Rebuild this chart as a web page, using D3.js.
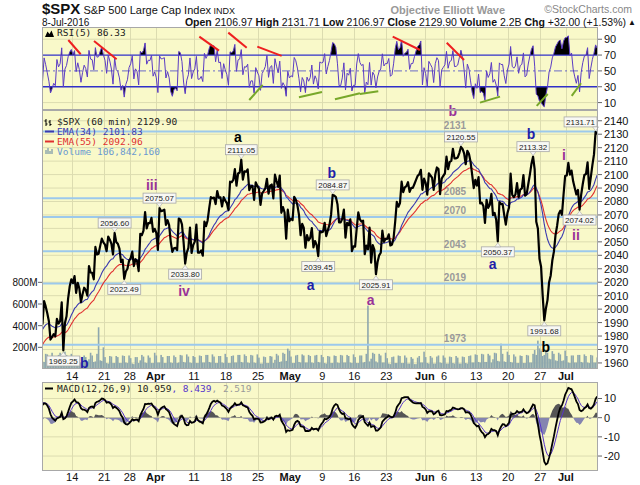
<!DOCTYPE html>
<html>
<head>
<meta charset="utf-8">
<title>$SPX 60 min</title>
<script src="https://cdn.jsdelivr.net/npm/d3@7/dist/d3.min.js"></script>
<style>
  body { margin: 0; background: #fff; }
  svg { display: block; font-family: "Liberation Sans", Arial, sans-serif; }
  .mono { font-family: "DejaVu Sans Mono", monospace; font-size: 9.5px; }
</style>
</head>
<body>
<svg id="chart" width="640" height="485"></svg>
<script>
'use strict';

var tradingDays = ['3/7','3/8','3/9','3/10','3/11','3/14','3/15','3/16','3/17','3/18','3/21','3/22','3/23','3/24',
  '3/28','3/29','3/30','3/31','4/1','4/4','4/5','4/6','4/7','4/8','4/11','4/12','4/13','4/14','4/15',
  '4/18','4/19','4/20','4/21','4/22','4/25','4/26','4/27','4/28','4/29','5/2','5/3','5/4','5/5','5/6',
  '5/9','5/10','5/11','5/12','5/13','5/16','5/17','5/18','5/19','5/20','5/23','5/24','5/25','5/26','5/27',
  '5/31','6/1','6/2','6/3','6/6','6/7','6/8','6/9','6/10','6/13','6/14','6/15','6/16','6/17',
  '6/20','6/21','6/22','6/23','6/24','6/27','6/28','6/29','6/30','7/1','7/5','7/6','7/7','7/8'];

// intraday path per day: open, first swing, second swing, close
var prices = [
  [1996, 1989, 2006, 2002], [1997, 1991, 1977.4, 1979.3], [1981.4, 1979.8, 1992.7, 1989.3],
  [1991, 2005, 1969.25, 1989.6], [1994.7, 2008, 2017, 2022.2],
  [2019.3, 2024.6, 2012.1, 2019.6], [2015.3, 2005.2, 2011, 2015.9], [2014.2, 2010, 2032, 2027.2],
  [2026.9, 2022.2, 2046.2, 2040.6], [2041.2, 2047, 2052.4, 2049.6],
  [2047.9, 2043.1, 2053.9, 2051.6], [2048.6, 2040.6, 2056.6, 2049.8], [2048.6, 2045, 2034.9, 2036.7],
  [2022.49, 2028, 2030, 2035.9],
  [2037.9, 2042.7, 2032, 2037.1], [2035.8, 2028.3, 2055.9, 2055], [2058.3, 2072.2, 2060, 2064],
  [2063.8, 2067.9, 2057.5, 2059.7], [2056.6, 2044, 2075.07, 2072.8],
  [2073.2, 2074, 2062.6, 2066.1], [2062.5, 2050, 2042.6, 2045.2], [2045.6, 2043.8, 2067.3, 2066.7],
  [2063, 2050, 2033.8, 2041.9], [2045.5, 2060.6, 2041.7, 2047.6],
  [2050.2, 2062.9, 2041.9, 2042], [2043.7, 2039.7, 2065, 2061.7], [2065.9, 2075, 2083.2, 2082.4],
  [2082.9, 2078.1, 2087.8, 2082.8], [2083.1, 2076.3, 2083.2, 2080.7],
  [2078.8, 2073.7, 2094.7, 2094.3], [2096, 2104, 2091.7, 2100.8], [2101.5, 2111.05, 2096.3, 2102.4],
  [2102.1, 2103.8, 2088.5, 2091.5], [2091.5, 2081.2, 2094.3, 2091.6],
  [2089.4, 2077.5, 2086, 2087.8], [2089.8, 2096.9, 2085.8, 2091.7], [2092.6, 2082.3, 2099.9, 2095.2],
  [2090.9, 2099.3, 2071.6, 2075.8], [2071.8, 2052.3, 2073.9, 2065.3],
  [2067.2, 2066.1, 2083.4, 2081.4], [2077.2, 2070, 2054.9, 2063.4], [2060.3, 2045.6, 2055, 2051.1],
  [2053, 2060.2, 2045.8, 2050.6], [2047.8, 2039.45, 2057.7, 2057.1],
  [2057.6, 2064.2, 2054.3, 2058.7], [2062.6, 2070, 2084.87, 2084.4], [2083.3, 2078, 2064.5, 2064.5],
  [2067.2, 2074, 2053.1, 2064.1], [2062.5, 2066.8, 2043.1, 2046.6],
  [2046.5, 2060, 2071.9, 2066.7], [2065, 2065.7, 2040.8, 2047.2], [2044.4, 2060.6, 2034.5, 2047.6],
  [2044.2, 2025.91, 2035, 2040], [2041.9, 2058.4, 2050, 2052.3],
  [2052.2, 2055.6, 2047.3, 2048], [2052.7, 2065, 2079.7, 2076.1], [2078.9, 2094.7, 2087, 2090.5],
  [2091.4, 2094.3, 2087.1, 2090.1], [2090.1, 2093, 2096, 2099.1],
  [2100.1, 2103.5, 2088.7, 2097], [2093.9, 2085.1, 2101, 2099.3], [2097.7, 2088.6, 2100, 2105.3],
  [2104.1, 2085.4, 2097, 2099.1],
  [2100.8, 2113.4, 2104, 2109.4], [2110.2, 2119.2, 2112, 2112.1], [2112.7, 2116, 2120.55, 2119.1],
  [2115.7, 2107.7, 2117.6, 2115.5], [2109.6, 2100, 2090, 2096.1],
  [2091.8, 2098.1, 2078.5, 2079.1], [2076.7, 2064.1, 2081.3, 2075.3], [2077.6, 2085.7, 2069.8, 2071.5],
  [2066.4, 2050.37, 2079.6, 2078], [2078.2, 2070, 2062.8, 2071.2],
  [2075.6, 2100.7, 2085, 2083.3], [2085.2, 2093.7, 2083, 2088.9], [2089.8, 2099.7, 2084.4, 2085.5],
  [2092.8, 2100, 2108, 2113.32], [2103.8, 2065, 2060, 2037.4],
  [2031.5, 2010, 1991.68, 2000.5], [2006.7, 2020, 2025, 2036.1], [2042.7, 2055, 2062, 2070.8],
  [2073.2, 2070, 2085, 2098.9], [2099.3, 2108.7, 2100, 2103],
  [2095, 2090, 2085.3, 2088.6], [2074.02, 2085, 2093, 2099.7], [2100.4, 2109.1, 2089.4, 2097.9],
  [2107, 2115, 2131.71, 2129.9]
];

// volume in millions, same 4 slots a day
var volumes = [
  [130, 70, 65, 140], [135, 75, 70, 150], [120, 65, 60, 130], [150, 90, 80, 160], [130, 70, 65, 140],
  [110, 55, 55, 120], [115, 60, 55, 125], [110, 55, 90, 150], [125, 65, 70, 140], [385, 80, 75, 200],
  [110, 55, 50, 120], [115, 55, 55, 120], [110, 55, 55, 125], [120, 60, 55, 125],
  [100, 50, 45, 110], [110, 55, 80, 130], [115, 60, 55, 125], [105, 55, 55, 150], [125, 60, 60, 130],
  [110, 55, 55, 120], [120, 60, 55, 125], [110, 55, 60, 130], [125, 65, 60, 135], [115, 60, 55, 120],
  [110, 55, 55, 125], [120, 60, 60, 130], [130, 65, 60, 135], [115, 55, 55, 120], [120, 60, 55, 140],
  [110, 55, 55, 120], [125, 60, 60, 130], [130, 65, 60, 135], [120, 60, 55, 130], [125, 60, 55, 135],
  [105, 50, 50, 115], [110, 55, 55, 120], [115, 55, 85, 140], [125, 65, 70, 150], [140, 75, 188, 170],
  [115, 55, 55, 125], [130, 65, 60, 135], [125, 60, 60, 130], [120, 60, 55, 125], [130, 65, 60, 130],
  [110, 55, 50, 120], [115, 55, 55, 125], [120, 60, 55, 130], [125, 60, 60, 130], [120, 60, 55, 135],
  [110, 55, 55, 125], [125, 60, 65, 140], [585, 70, 95, 150], [140, 70, 60, 140], [125, 60, 60, 150],
  [100, 50, 45, 110], [115, 55, 55, 125], [120, 55, 55, 125], [105, 50, 50, 110], [95, 45, 45, 105],
  [120, 60, 60, 160], [110, 55, 50, 120], [105, 50, 50, 115], [125, 60, 55, 125],
  [105, 50, 50, 115], [110, 55, 50, 120], [105, 50, 50, 115], [110, 55, 50, 120], [125, 60, 60, 135],
  [130, 65, 60, 140], [135, 65, 65, 140], [125, 60, 90, 150], [145, 75, 70, 234], [140, 70, 65, 160],
  [130, 65, 60, 135], [115, 55, 55, 125], [120, 55, 55, 130], [125, 60, 60, 140], [175, 130, 262, 190],
  [170, 120, 130, 175], [150, 95, 90, 165], [140, 80, 75, 150], [135, 75, 80, 170], [120, 60, 55, 125],
  [125, 60, 60, 130], [130, 65, 60, 135], [120, 60, 55, 130], [125, 60, 60, 107]
];

var tickDays = ['3/14','3/21','3/28','4/1','4/11','4/18','4/25','5/2','5/9','5/16','5/23','6/1','6/6','6/13','6/20','6/27','7/1'];
var tickLabels = ['14','21','28','Apr','11','18','25','May','9','16','23','Jun','6','13','20','27','Jul'];
var priceTicks = [1960, 1970, 1980, 1990, 2000, 2010, 2020, 2030, 2040, 2050, 2060, 2070, 2080, 2090, 2100, 2110, 2120, 2130, 2140];
var rsiTicks = [10, 30, 50, 70, 90];
var macdTicks = [10, 0, -10, -20];
var volTicks = [200, 400, 600, 800];

// indicator values at the left edge
var emaStart = [1983, 1971];          // EMA(34), EMA(55)
var macdStart = [1993, 1984, 8.5];    // EMA(12), EMA(26), signal

// labelled highs and lows
var peakDays = ['3/10','3/22','3/24','4/1','4/7','4/20','5/6','5/10','5/19','6/8','6/16','6/23','6/27','7/6','7/8'];
var peakValues = [1969.25, 2056.60, 2022.49, 2075.07, 2033.80, 2111.05, 2039.45, 2084.87, 2025.91, 2120.55, 2050.37, 2113.32, 1991.68, 2074.02, 2131.71];
var peakIsHigh = [false, true, false, true, false, true, false, true, false, true, false, true, false, false, true];

// support / resistance levels drawn by the analyst
var levelValues = [2132, 2082.5, 2068.5, 2043, 2019, 1973.5];
var levelLabels = ['2131', '2085', '2070', '2043', '2019', '1973'];

// Elliott wave labels (position in days, price)
var waveText = ['b', 'a', 'b', 'iii', 'iv', 'a', 'a', 'b', 'a', 'i', 'ii', 'b', 'b'];
var wavePos = [64.34, 30.86, 45.47, 17.41, 22.44, 42.2, 51.56, 76.55, 70.58, 81.7, 83.57, 78.84, 6.9];
var wavePrice = [2147.6, 2128, 2101.5, 2092.5, 2013.7, 2017.9, 2006.8, 2130.5, 2033.5, 2114.6, 2055.1, 1971.9, 1959.7];
var waveDegree = ['p', 'k', 'b', 'p', 'p', 'b', 'p', 'b', 'b', 'p', 'p', 'k', 'b'];

// RSI divergence lines [pos1, rsi1, pos2, rsi2]
var rsiRedLines = [[4.40, 89.0, 6.33, 71.0], [8.41, 87.8, 11.94, 64.7], [24.83, 93.2, 27.9, 75.6],
  [29.35, 98.3, 32.22, 79.3], [33.87, 80.6, 37.67, 68.9], [54.99, 93.2, 59.24, 76.4], [63.41, 85.6, 66.11, 63.8]];
var rsiGreenLines = [[32.62, 13.3, 34.71, 32.3], [40.37, 16.7, 43.96, 23.4], [45.98, 14.2, 49.88, 21.8],
  [49.88, 20.9, 52.74, 24.3], [68.6, 9.9, 71.72, 17.5], [77.44, 5.8, 79.16, 20.9], [82.9, 18.4, 84.35, 34.4]];

var colors = {
  bg: '#f9f9c9', grid: '#dcdcb0', border: '#a8a8a8', level: '#9cc9ec', levelText: '#9a9a9a',
  rsi: '#5b3cc4', rsiBand: '#3030c8', ema34: '#3a3ab0', ema55: '#e03030', vol: '#8ea7ae',
  macd: '#000', signal: '#5533cc', histUp: '#555', histDown: '#8585b0',
  p: '#993399', b: '#1f1fa8', k: '#000', red: '#ee2020', green: '#78a82a'
};

var svg = d3.select('#chart');
var left = 42, right = 598;
var rsiTop = 27, rsiBot = 110, mainTop = 110, mainBot = 369, macdTop = 382, macdBot = 471;

var x = d3.scaleLinear().domain([0.3, tradingDays.length]).range([left, right]);
var yRsi = d3.scaleLinear().domain([0, 100]).range([110.5, 31.3]);
var yPrice = d3.scaleLinear().domain([1955.5, 2148]).range([mainBot, mainTop]);
var yVol = d3.scaleLinear().domain([0, 2391]).range([mainBot, mainTop]);
var yMacd = d3.scaleLinear().domain([-27.8, 18.6]).range([macdBot, macdTop]);

// flatten to points
var points = [];
prices.forEach(function(row, d) {
  row.forEach(function(p, k) {
    points.push({ pos: d + (k + 0.5) / row.length, price: p, vol: volumes[d][k], day: d });
  });
});
var closes = points.map(function(p) { return p.price; });

// hourly periods, converted to 4 samples a day
var per = 4 / 7;
function ema(values, period, seed) {
  var a = 2 / (period + 1), e = seed;
  return values.map(function(v) { e = e + a * (v - e); return e; });
}
function rsi(values, period, seed) {
  var g = seed, l = seed;
  return values.map(function(v, i) {
    if (i > 0) {
      var ch = v - values[i - 1];
      g = (g * (period - 1) + Math.max(ch, 0)) / period;
      l = (l * (period - 1) + Math.max(-ch, 0)) / period;
    }
    return l === 0 ? 100 : 100 - 100 / (1 + g / l);
  });
}
var ema34 = ema(closes, 34 * per, emaStart[0]);
var ema55 = ema(closes, 55 * per, emaStart[1]);
var e12 = ema(closes, 12 * per, macdStart[0]);
var e26 = ema(closes, 26 * per, macdStart[1]);
var macd = e12.map(function(v, i) { return v - e26[i]; });
var signal = ema(macd, 9 * per, macdStart[2]);
var hist = macd.map(function(v, i) { return v - signal[i]; });
var rsiVals = rsi(closes, 4, 3);

// clip paths
var defs = svg.append('defs');
function clip(id, y0, y1) {
  defs.append('clipPath').attr('id', id).append('rect')
    .attr('x', left).attr('y', y0).attr('width', right - left).attr('height', y1 - y0);
}
clip('cRsi', rsiTop, rsiBot);
clip('cMain', mainTop, mainBot);
clip('cMacd', macdTop, macdBot);
clip('cRsiHi', rsiTop, yRsi(70));
clip('cRsiLo', yRsi(30), rsiBot);
clip('cMacdUp', macdTop, yMacd(0));
clip('cMacdDn', yMacd(0), macdBot);

svg.append('rect').attr('width', 640).attr('height', 485).attr('fill', '#fff');
[[rsiTop, rsiBot], [mainTop, mainBot], [macdTop, macdBot]].forEach(function(p) {
  svg.append('rect').attr('x', left).attr('y', p[0]).attr('width', right - left).attr('height', p[1] - p[0])
    .attr('fill', colors.bg);
});

// grid
var grid = svg.append('g').attr('stroke', colors.grid).attr('stroke-width', 1);
tickDays.forEach(function(d) {
  var gx = Math.round(x(tradingDays.indexOf(d))) + 0.5;
  [[rsiTop, rsiBot], [mainTop, mainBot], [macdTop, macdBot]].forEach(function(p) {
    grid.append('line').attr('x1', gx).attr('x2', gx).attr('y1', p[0]).attr('y2', p[1]);
  });
});
priceTicks.forEach(function(t) {
  grid.append('line').attr('x1', left).attr('x2', right).attr('y1', yPrice(t)).attr('y2', yPrice(t));
});
[10, 90].forEach(function(t) {
  grid.append('line').attr('x1', left).attr('x2', right).attr('y1', yRsi(t)).attr('y2', yRsi(t));
});
macdTicks.forEach(function(t) {
  grid.append('line').attr('x1', left).attr('x2', right).attr('y1', yMacd(t)).attr('y2', yMacd(t));
});

// ---- RSI pane
var rsiG = svg.append('g').attr('clip-path', 'url(#cRsi)');
rsiG.append('path').datum(rsiVals).attr('clip-path', 'url(#cRsiHi)').attr('fill', '#000')
  .attr('d', d3.area().x(function(d, i) { return x(points[i].pos); }).y0(yRsi(70)).y1(function(d) { return yRsi(d); }));
rsiG.append('path').datum(rsiVals).attr('clip-path', 'url(#cRsiLo)').attr('fill', '#000')
  .attr('d', d3.area().x(function(d, i) { return x(points[i].pos); }).y0(yRsi(30)).y1(function(d) { return yRsi(d); }));
[70, 30].forEach(function(t) {
  rsiG.append('line').attr('x1', left).attr('x2', right).attr('y1', yRsi(t)).attr('y2', yRsi(t))
    .attr('stroke', colors.rsiBand).attr('stroke-width', 1.3);
});
rsiG.append('line').attr('x1', left).attr('x2', right).attr('y1', yRsi(50)).attr('y2', yRsi(50))
  .attr('stroke', colors.rsiBand).attr('stroke-width', 1).attr('stroke-dasharray', '8,3,2,3').attr('opacity', 0.7);
rsiG.append('path').datum(rsiVals).attr('fill', 'none').attr('stroke', colors.rsi).attr('stroke-width', 1)
  .attr('d', d3.line().x(function(d, i) { return x(points[i].pos); }).y(function(d) { return yRsi(d); }));
function divLines(list, color) {
  list.forEach(function(l) {
    rsiG.append('line').attr('x1', x(l[0])).attr('y1', yRsi(l[1])).attr('x2', x(l[2])).attr('y2', yRsi(l[3]))
      .attr('stroke', color).attr('stroke-width', 2);
  });
}
divLines(rsiRedLines, colors.red);
divLines(rsiGreenLines, colors.green);
svg.append('path').attr('d', 'M45,37L47.5,31.5L49.5,34L51.5,30.5L54,37Z').attr('fill', '#000');
svg.append('text').attr('class', 'mono').attr('x', 57).attr('y', 36).attr('fill', '#222').text('RSI(5) 86.33');

// ---- main pane
var mainG = svg.append('g').attr('clip-path', 'url(#cMain)');
mainG.selectAll('rect.vol').data(points).enter().append('rect').attr('class', 'vol')
  .attr('x', function(d) { return x(d.pos) - 0.8; }).attr('width', 1.6)
  .attr('y', function(d) { return yVol(d.vol); })
  .attr('height', function(d) { return mainBot - yVol(d.vol); })
  .attr('fill', colors.vol);

// legend
var leg = svg.append('g');
leg.append('path').attr('d', 'M46,119v7M44.5,121h1.5M46,124h1.5M50,120v6M48.5,122h1.5M50,124.5h1.5').attr('stroke', '#000').attr('stroke-width', 1);
leg.append('text').attr('class', 'mono').attr('x', 57).attr('y', 125).attr('fill', '#222').text('$SPX (60 min) 2129.90');
leg.append('line').attr('x1', 45).attr('x2', 54).attr('y1', 131.5).attr('y2', 131.5).attr('stroke', colors.ema34).attr('stroke-width', 2);
leg.append('text').attr('class', 'mono').attr('x', 57).attr('y', 135).attr('fill', colors.ema34).text('EMA(34) 2101.83');
leg.append('line').attr('x1', 45).attr('x2', 54).attr('y1', 141.5).attr('y2', 141.5).attr('stroke', colors.ema55).attr('stroke-width', 2);
leg.append('text').attr('class', 'mono').attr('x', 57).attr('y', 145).attr('fill', colors.ema55).text('EMA(55) 2092.96');
leg.append('path').attr('d', 'M46,154v-4M48,154v-6M50,154v-3M52,154v-5').attr('stroke', colors.vol).attr('stroke-width', 1.5);
leg.append('text').attr('class', 'mono').attr('x', 57).attr('y', 154.5).attr('fill', '#6a9ad0').text('Volume 106,842,160');

levelValues.forEach(function(v, i) {
  mainG.append('line').attr('x1', left).attr('x2', right).attr('y1', yPrice(v)).attr('y2', yPrice(v))
    .attr('stroke', colors.level).attr('stroke-width', 2);
  mainG.append('text').attr('x', x(64.7)).attr('y', yPrice(v) - 3).attr('text-anchor', 'middle')
    .attr('font-size', 10).attr('font-weight', 'bold').attr('fill', colors.levelText).text(levelLabels[i]);
});

var lineOf = function(arr) {
  return d3.line().x(function(d, i) { return x(points[i].pos); }).y(function(d) { return yPrice(d); })(arr);
};
mainG.append('path').attr('d', lineOf(ema55)).attr('fill', 'none').attr('stroke', colors.ema55).attr('stroke-width', 1.1);
mainG.append('path').attr('d', lineOf(ema34)).attr('fill', 'none').attr('stroke', colors.ema34).attr('stroke-width', 1.1);
mainG.append('path').attr('d', lineOf(closes)).attr('fill', 'none').attr('stroke', '#000')
  .attr('stroke-width', 2.2).attr('stroke-linejoin', 'round');

// labelled highs / lows
var peakG = svg.append('g');
peakDays.forEach(function(day, i) {
  var d = tradingDays.indexOf(day);
  var pt = points.filter(function(p) { return p.day === d; })
    .sort(function(a, b) { return Math.abs(a.price - peakValues[i]) - Math.abs(b.price - peakValues[i]); })[0];
  var px = x(pt.pos), py = yPrice(pt.price);
  var cy = peakIsHigh[i] ? py - 10 : py + 10.5;
  var g = peakG.append('g');
  var t = g.append('text').attr('y', cy + 3).attr('text-anchor', 'middle')
    .attr('font-size', 8).attr('fill', '#222').text(peakValues[i].toFixed(2));
  var w = t.node().getComputedTextLength() + 4;
  var bx = Math.min(px, right - 1 - w / 2);
  t.attr('x', bx);
  g.insert('rect', 'text').attr('x', bx - w / 2).attr('y', cy - 5).attr('width', w).attr('height', 10)
    .attr('fill', '#f8f8f4').attr('stroke', '#a8a8a8').attr('stroke-width', 0.8);
  var s = peakIsHigh[i] ? 1 : -1;
  g.insert('path', 'text').attr('d', 'M' + (px - 3) + ',' + (cy + s * 5) + 'L' + px + ',' + (cy + s * 9) + 'L' + (px + 3) + ',' + (cy + s * 5) + 'Z')
    .attr('fill', '#f8f8f4').attr('stroke', '#a8a8a8').attr('stroke-width', 0.6);
});

// wave labels
waveText.forEach(function(t, i) {
  svg.append('text').attr('x', x(wavePos[i])).attr('y', yPrice(wavePrice[i]) + 5).attr('text-anchor', 'middle')
    .attr('font-size', 14).attr('font-weight', 'bold').attr('fill', colors[waveDegree[i]]).text(t);
});

// ---- MACD pane
var macdG = svg.append('g').attr('clip-path', 'url(#cMacd)');
var histArea = d3.area().x(function(d, i) { return x(points[i].pos); }).y0(yMacd(0)).y1(function(d) { return yMacd(d); });
macdG.append('path').datum(hist).attr('clip-path', 'url(#cMacdUp)').attr('fill', colors.histUp).attr('d', histArea);
macdG.append('path').datum(hist).attr('clip-path', 'url(#cMacdDn)').attr('fill', colors.histDown).attr('d', histArea);
var mline = d3.line().x(function(d, i) { return x(points[i].pos); }).y(function(d) { return yMacd(d); });
macdG.append('path').datum(signal).attr('fill', 'none').attr('stroke', colors.signal).attr('stroke-width', 1).attr('d', mline);
macdG.append('path').datum(macd).attr('fill', 'none').attr('stroke', colors.macd).attr('stroke-width', 1.8).attr('d', mline);
svg.append('line').attr('x1', 45).attr('x2', 53).attr('y1', 388.5).attr('y2', 388.5).attr('stroke', '#000').attr('stroke-width', 2);
var mt = svg.append('text').attr('class', 'mono').attr('x', 57).attr('y', 392);
mt.append('tspan').attr('fill', '#222').text('MACD(12,26,9) 10.959');
mt.append('tspan').attr('fill', colors.signal).text(', 8.439');
mt.append('tspan').attr('fill', '#999').text(', 2.519');

// ---- panel borders
[[rsiTop, rsiBot], [mainTop, mainBot], [macdTop, macdBot]].forEach(function(p) {
  svg.append('rect').attr('x', left + 0.5).attr('y', p[0] + 0.5).attr('width', right - left - 1).attr('height', p[1] - p[0] - 1)
    .attr('fill', 'none').attr('stroke', colors.border);
});

// ---- axes
var ax = svg.append('g').attr('font-size', 11).attr('fill', '#111');
function rightAxis(ticks, scale) {
  ticks.forEach(function(t) {
    ax.append('line').attr('x1', right).attr('x2', right + 4).attr('y1', scale(t)).attr('y2', scale(t)).attr('stroke', '#666');
    ax.append('text').attr('x', right + 6).attr('y', scale(t) + 4).text(t);
  });
}
rightAxis(priceTicks, yPrice);
rightAxis(rsiTicks, yRsi);
rightAxis(macdTicks, yMacd);
volTicks.forEach(function(t) {
  ax.append('line').attr('x1', left - 4).attr('x2', left).attr('y1', yVol(t)).attr('y2', yVol(t)).attr('stroke', '#666');
  ax.append('text').attr('x', left - 4.5).attr('y', yVol(t) + 4).attr('text-anchor', 'end').attr('font-size', 10).text(t + 'M');
});
tickDays.forEach(function(d, i) {
  var tx = x(tradingDays.indexOf(d));
  var bold = isNaN(+tickLabels[i]);
  [380, 481].forEach(function(ty) {
    ax.append('text').attr('x', tx).attr('y', ty).attr('text-anchor', 'middle')
      .attr('font-weight', bold ? 'bold' : 'normal').text(tickLabels[i]);
  });
});

// ---- header
var h1 = svg.append('text').attr('x', 42).attr('y', 13.5).attr('fill', '#111');
h1.append('tspan').attr('font-size', 15).attr('font-weight', 'bold').text('$SPX');
h1.append('tspan').attr('font-size', 11).text(' S&P 500 Large Cap Index');
h1.append('tspan').attr('font-size', 9).text(' INDX');
svg.append('text').attr('x', 505).attr('y', 13.5).attr('text-anchor', 'end').attr('font-size', 11)
  .attr('font-weight', 'bold').attr('fill', '#999').text('Objective Elliott Wave');
svg.append('text').attr('x', 632).attr('y', 13).attr('text-anchor', 'end').attr('font-size', 10.5)
  .attr('fill', '#888').text('\u00a9StockCharts.com');
svg.append('text').attr('x', 42).attr('y', 25.5).attr('font-size', 10).attr('fill', '#111').text('8-Jul-2016');
var h2 = svg.append('text').attr('x', 626).attr('y', 25.5).attr('text-anchor', 'end').attr('font-size', 10.5).attr('fill', '#111');
[['Open', ' 2106.97 '], ['High', ' 2131.71 '], ['Low', ' 2106.97 '], ['Close', ' 2129.90 '], ['Volume', ' 2.2B '], ['Chg', ' +32.00 (+1.53%)']]
  .forEach(function(p) {
    h2.append('tspan').attr('font-weight', 'bold').text(p[0]);
    h2.append('tspan').text(p[1]);
  });
svg.append('text').attr('x', 628).attr('y', 25).attr('font-size', 8).attr('fill', '#111').text('\u25b2');
</script>
</body>
</html>
